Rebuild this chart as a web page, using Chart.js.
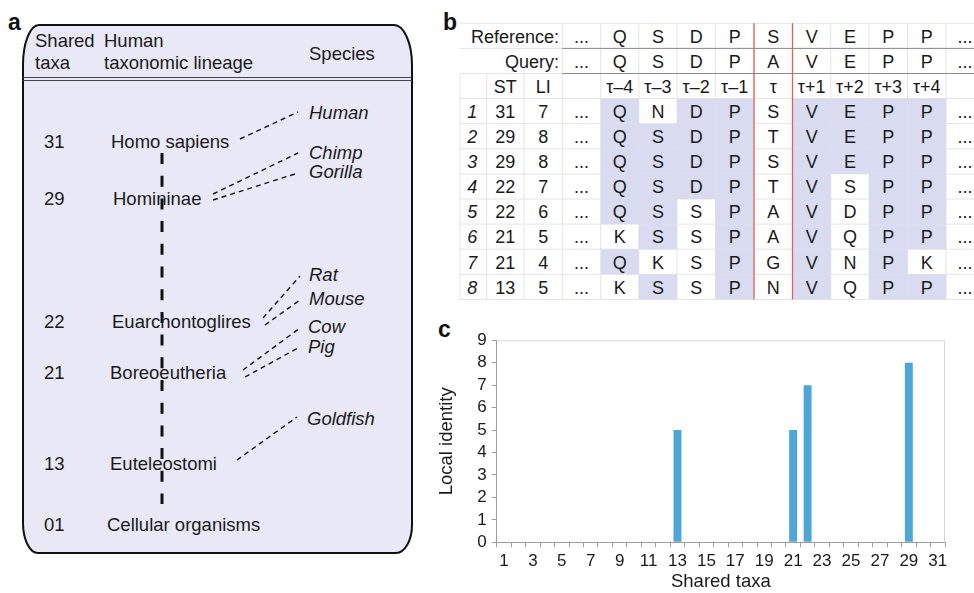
<!DOCTYPE html>
<html>
<head>
<meta charset="utf-8">
<script src="https://cdn.jsdelivr.net/npm/chart.js@4.4.0/dist/chart.umd.min.js"></script>
<style>
  html, body { margin: 0; padding: 0; background: #ffffff; }
  #fig { position: relative; width: 974px; height: 593px; overflow: hidden; }
  #art { position: absolute; left: 0; top: 0; }
  #wrapC { position: absolute; left: 430px; top: 318px; width: 544px; height: 275px; }
</style>
</head>
<body>
<div id="fig">
  <svg id="art" width="974" height="593" xmlns="http://www.w3.org/2000/svg"></svg>
  <div id="wrapC"><canvas id="c" width="544" height="275"></canvas></div>
</div>
<script>
// ---- panel c: local identity per shared-taxa level ----
const sharedTaxa = ['1','2','3','4','5','6','7','8','9','10','11','12','13','14','15','16',
                    '17','18','19','20','21','22','23','24','25','26','27','28','29','30','31'];
const localIdentity = [0,0,0,0,0,0,0,0,0,0,0,0,5,0,0,0,
                       0,0,0,0,5,7,0,0,0,0,0,0,8,0,0];

// ---- panel a: human lineage and species ----
const lineageTaxa  = ['31','29','22','21','13','01'];
const lineageNames = ['Homo sapiens','Homininae','Euarchontoglires','Boreoeutheria','Euteleostomi','Cellular organisms'];
const speciesNames = ['Human','Chimp','Gorilla','Rat','Mouse','Cow','Pig','Goldfish'];

// ---- panel b: alignment window ----
const referenceSeq = ['Q','S','D','P','S','V','E','P','P'];
const querySeq     = ['Q','S','D','P','A','V','E','P','P'];
const offsetLabels = ['τ–4','τ–3','τ–2','τ–1','τ','τ+1','τ+2','τ+3','τ+4'];
const hitST   = ['31','29','29','22','22','21','21','13'];
const hitLI   = ['7','8','8','7','6','5','4','5'];
const hitSeqs = ['QNDPSVEPP','QSDPTVEPP','QSDPSVEPP','QSDPTVSPP','QSSPAVDPP','KSSPAVQPP','QKSPGVNPK','KSSPNVQPP'];

const FONT = '"Liberation Sans", Arial, Helvetica, sans-serif';
const INK = '#1a1a1a';
const svgNS = 'http://www.w3.org/2000/svg';
const art = document.getElementById('art');

function el(tag, attrs, text) {
  const e = document.createElementNS(svgNS, tag);
  for (const k in attrs) e.setAttribute(k, attrs[k]);
  if (text !== undefined) e.textContent = text;
  art.appendChild(e);
  return e;
}
function txt(x, y, s, o = {}) {
  return el('text', {
    x, y, 'font-size': o.size || 18.5, 'font-family': FONT,
    'text-anchor': o.anchor || 'start',
    'font-style': o.italic ? 'italic' : 'normal',
    'font-weight': o.bold ? 'bold' : 'normal',
    fill: o.fill || INK
  }, s);
}
function seg(x1, y1, x2, y2, stroke, w, dash) {
  const a = { x1, y1, x2, y2, stroke, 'stroke-width': w };
  if (dash) a['stroke-dasharray'] = dash;
  return el('line', a);
}

// ===== panel a =====
txt(8, 30, 'a', { size: 23, bold: true, fill: '#111' });
el('path', {
  d: 'M 39 25 H 394 A 18 40 0 0 1 412 65 V 525 A 16 28 0 0 1 396 553 H 38 A 15 30 0 0 1 23 523 V 65 A 16 40 0 0 1 39 25 Z',
  fill: '#e8e8f6', stroke: '#111', 'stroke-width': 2
});
seg(23, 77.5, 412, 77.5, '#444', 1);
seg(23, 80.5, 412, 80.5, '#444', 1);
txt(35, 47, 'Shared');
txt(35, 69, 'taxa');
txt(104, 47, 'Human');
txt(104, 69, 'taxonomic lineage');
txt(309, 60, 'Species');

// lineage spine
seg(162, 153, 162, 504, '#111', 3, '11 11.7');

const lineageY = [148, 205, 328, 379, 470, 531];
const lineageX = [111, 113, 112, 110, 110, 107];
lineageTaxa.forEach((t, i) => txt(44, lineageY[i], t));
lineageNames.forEach((n, i) => txt(lineageX[i], lineageY[i], n));

const speciesY = [119, 159, 178, 281, 305, 333, 353, 425];
const speciesX = [309, 309, 309, 309, 309, 308, 308, 307];
speciesNames.forEach((n, i) => txt(speciesX[i], speciesY[i], n, { italic: true }));

// species-to-lineage connectors: [x1, y1, x2, y2]
const links = [
  [240, 139, 298, 112],
  [213, 194, 298, 153],
  [213, 200, 298, 173],
  [263, 318, 300, 276],
  [265, 325, 300, 300],
  [243, 370, 300, 328],
  [245, 377, 298, 348],
  [237, 460, 297, 417]
];
links.forEach(l => seg(l[0], l[1], l[2], l[3], '#111', 1.4, '5 4'));

// ===== panel b =====
txt(443, 30, 'b', { size: 23, bold: true, fill: '#111' });
const colX = [460, 486.7, 524, 562.3, 600.7, 638.8, 677, 715.3, 754, 792.5, 830.8, 869, 907.5, 946, 990];
const rowTop = 23.3, rowH = 25.1, nRows = 11;
const rY = i => rowTop + rowH * i;
const cX = i => (colX[i] + colX[i + 1]) / 2;
const GRID = '#e4e4e4';

// light grid
for (let r = 0; r <= nRows; r++) seg(colX[0], rY(r), 974, rY(r), GRID, 1);
for (let c = 0; c < colX.length - 1; c++) {
  const yStart = c < 3 ? rY(2) : rY(0);
  seg(colX[c], yStart, colX[c], rY(nRows), GRID, 1);
}
// matched residues shaded
hitSeqs.forEach((s, r) => {
  for (let k = 0; k < 9; k++) {
    if (k === 4) continue;
    if (s[k] === querySeq[k]) {
      el('rect', { x: colX[4 + k], y: rY(3 + r), width: colX[5 + k] - colX[4 + k], height: rowH, fill: '#d9dcf0' });
    }
  }
});
// darker separators under reference and query rows
seg(562.3, rY(1), 974, rY(1), '#8a8a8a', 1);
seg(562.3, rY(2), 974, rY(2), '#8a8a8a', 1);
// position τ boundaries
seg(colX[8], rY(0), colX[8], rY(nRows), '#e0605a', 1.3);
seg(colX[9], rY(0), colX[9], rY(nRows), '#e0605a', 1.3);

const TS = 18;
const base = r => rY(r) + 19.3;
const dotsX = 965;
txt(559, base(0), 'Reference:', { size: TS, anchor: 'end' });
txt(559, base(1), 'Query:', { size: TS, anchor: 'end' });
[0, 1].forEach(r => {
  txt(cX(3), base(r), '...', { size: TS, anchor: 'middle' });
  txt(dotsX, base(r), '...', { size: TS, anchor: 'middle' });
});
referenceSeq.forEach((a, k) => txt(cX(4 + k), base(0), a, { size: TS, anchor: 'middle' }));
querySeq.forEach((a, k) => txt(cX(4 + k), base(1), a, { size: TS, anchor: 'middle' }));
txt(cX(1), base(2), 'ST', { size: TS, anchor: 'middle' });
txt(cX(2), base(2), 'LI', { size: TS, anchor: 'middle' });
offsetLabels.forEach((a, k) => txt(cX(4 + k), base(2), a, { size: TS, anchor: 'middle' }));
hitSeqs.forEach((s, r) => {
  const rr = 3 + r;
  txt(cX(0) - 1, base(rr), String(r + 1), { size: TS, anchor: 'middle', italic: true });
  txt(cX(1), base(rr), hitST[r], { size: TS, anchor: 'middle' });
  txt(cX(2), base(rr), hitLI[r], { size: TS, anchor: 'middle' });
  txt(cX(3), base(rr), '...', { size: TS, anchor: 'middle' });
  for (let k = 0; k < 9; k++) txt(cX(4 + k), base(rr), s[k], { size: TS, anchor: 'middle' });
  txt(dotsX, base(rr), '...', { size: TS, anchor: 'middle' });
});

// ===== panel c =====
txt(438, 337, 'c', { size: 23, bold: true, fill: '#111' });

const AXIS = '#9c9c9c';
const plotFrame = {
  id: 'plotFrame',
  beforeDatasetsDraw(chart) {
    const a = chart.chartArea, ctx = chart.ctx;
    ctx.save();
    ctx.strokeStyle = '#d8d8d8';
    ctx.lineWidth = 1;
    ctx.beginPath();
    ctx.moveTo(a.left, a.top + 0.5);
    ctx.lineTo(a.right - 0.5, a.top + 0.5);
    ctx.lineTo(a.right - 0.5, a.bottom);
    ctx.stroke();
    ctx.restore();
  }
};

new Chart(document.getElementById('c'), {
  type: 'bar',
  data: {
    labels: sharedTaxa,
    datasets: [{
      data: localIdentity,
      backgroundColor: '#4ea6d6',
      borderWidth: 0,
      barPercentage: 0.55,
      categoryPercentage: 1
    }]
  },
  options: {
    responsive: false,
    animation: false,
    devicePixelRatio: 1,
    layout: { padding: { left: 0, top: 22.3, right: 29, bottom: 0 } },
    plugins: { legend: { display: false }, tooltip: { enabled: false } },
    scales: {
      x: {
        offset: true,
        grid: { offset: true, drawOnChartArea: false, drawTicks: true, tickLength: 5, color: AXIS },
        border: { color: AXIS, width: 1 },
        ticks: {
          autoSkip: false, maxRotation: 0, minRotation: 0, padding: 4, color: INK,
          font: { family: FONT, size: 17 },
          callback: (v, i) => (i % 2 === 0 ? sharedTaxa[i] : '')
        },
        title: { display: true, text: 'Shared taxa', color: INK, font: { family: FONT, size: 18.5 }, padding: { top: 0, bottom: 0 } },
        afterFit(s) { s.height = 50.7; }
      },
      y: {
        min: 0, max: 9,
        grid: { drawOnChartArea: false, drawTicks: true, tickLength: 5, color: AXIS },
        border: { color: AXIS, width: 1 },
        ticks: { stepSize: 1, autoSkip: false, padding: 5, color: INK, font: { family: FONT, size: 17 } },
        title: { display: true, text: 'Local identity', color: INK, font: { family: FONT, size: 18.5 }, padding: { top: 6, bottom: 0 } },
        afterFit(s) { s.width = 66.7; }
      }
    }
  },
  plugins: [plotFrame]
});
</script>
</body>
</html>
